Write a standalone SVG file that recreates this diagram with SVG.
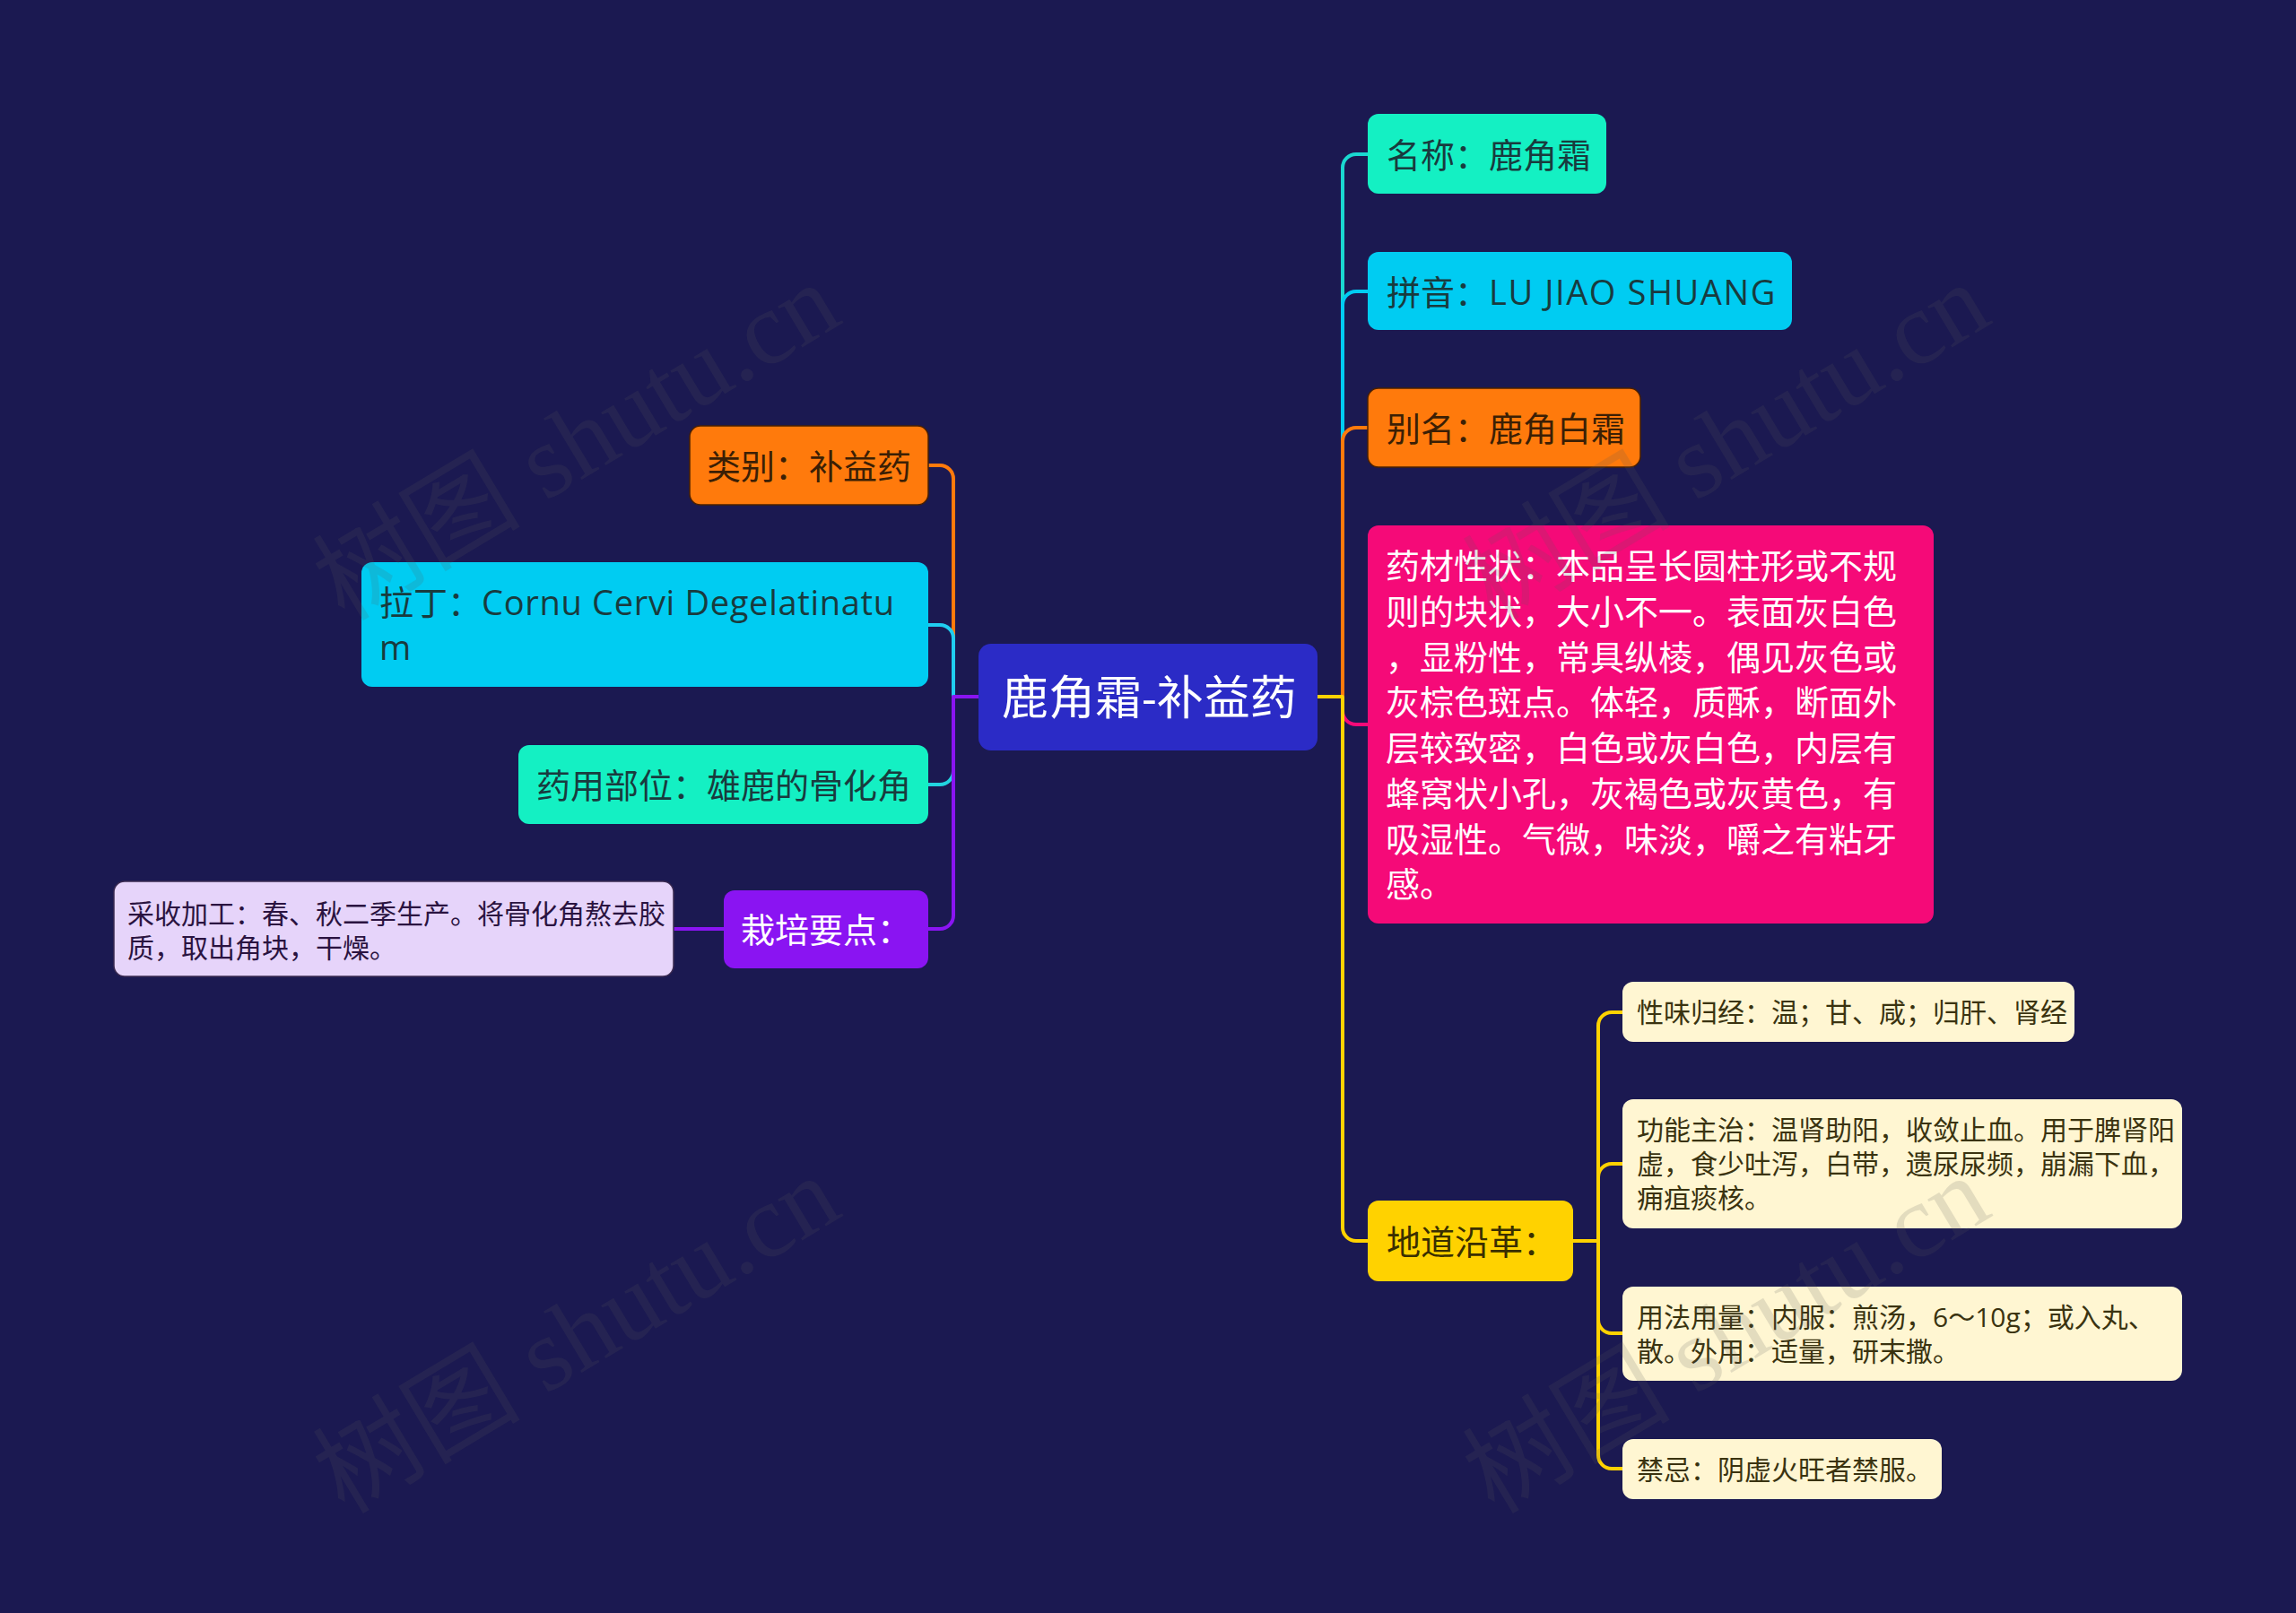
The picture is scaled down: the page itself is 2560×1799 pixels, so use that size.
<svg xmlns="http://www.w3.org/2000/svg" width="2560" height="1799" viewBox="0 0 2560 1799">
<style>
text{font-family:"Open Sans","Noto Sans CJK SC",sans-serif;}
.c{fill:none;stroke-width:4;stroke-linecap:round;stroke-linejoin:round}
.t38{font-size:38px}
.t30{font-size:30px}
.wm{font-family:"Liberation Serif","Noto Sans CJK SC",serif;font-size:116px;fill:#5a5a5a;opacity:0.16}
</style>
<rect x="0" y="0" width="2560" height="1799" fill="#1b1951"/>
<g id="connectors">
<path class="c" stroke="#1ad8d0" d="M1469,777 H1497 V187 A15,15 0 0 1 1512,172 H1525"/>
<path class="c" stroke="#00ccf2" d="M1469,777 H1497 V340 A15,15 0 0 1 1512,325 H1525"/>
<path class="c" stroke="#ff7a0c" d="M1469,777 H1497 V492 A15,15 0 0 1 1512,477 H1525"/>
<path class="c" stroke="#f50a78" d="M1469,777 H1497 V793 A15,15 0 0 0 1512,808 H1525"/>
<path class="c" stroke="#ffd200" d="M1469,777 H1497 V1369 A15,15 0 0 0 1512,1384 H1525"/>
<path class="c" stroke="#ffd200" d="M1754,1384 H1782 V1144 A15,15 0 0 1 1797,1129 H1809"/>
<path class="c" stroke="#ffd200" d="M1754,1384 H1782 V1313 A15,15 0 0 1 1797,1298 H1809"/>
<path class="c" stroke="#ffd200" d="M1754,1384 H1782 V1472 A15,15 0 0 0 1797,1487 H1809"/>
<path class="c" stroke="#ffd200" d="M1754,1384 H1782 V1623 A15,15 0 0 0 1797,1638 H1809"/>
<path class="c" stroke="#ff7a0c" d="M1091,777 H1063 V534 A15,15 0 0 0 1048,519 H1035"/>
<path class="c" stroke="#20cdf0" d="M1091,777 H1063 V712 A15,15 0 0 0 1048,697 H1035"/>
<path class="c" stroke="#22d4e0" d="M1091,777 H1063 V860 A15,15 0 0 1 1048,875 H1035"/>
<path class="c" stroke="#8a14f2" d="M1091,777 H1063 V1021 A15,15 0 0 1 1048,1036 H1035"/>
<path class="c" stroke="#8a14f2" d="M807,1036 H751"/>
</g>
<g id="center">
<rect x="1091" y="718" width="378" height="119" rx="14" fill="#2b2bc6"/>
<text x="1117" y="797" font-size="52" fill="#ffffff">鹿角霜-补益药</text>
</g>
<g id="n-name">
<rect x="1525" y="127" width="266" height="89" rx="12" fill="#14f0c3"/>
<text class="t38" x="1546" y="187" fill="#193b3e">名称：鹿角霜</text>
</g>
<g id="n-pinyin">
<rect x="1525" y="281" width="473" height="87" rx="12" fill="#00ccf2"/>
<text class="t38" x="1546" y="340" fill="#193b3e">拼音：<tspan letter-spacing="1.6">LU JIAO SHUANG</tspan></text>
</g>
<g id="n-alias">
<rect x="1525" y="433" width="304" height="88" rx="12" fill="#ff7a0c" stroke="#4a2000" stroke-width="1.5"/>
<text class="t38" x="1546" y="492" fill="#3b1f05">别名：鹿角白霜</text>
</g>
<g id="n-shape">
<rect x="1525" y="586" width="631" height="444" rx="12" fill="#f50a78"/>
<text class="t38" fill="#ffffff">
<tspan x="1545" y="645">药材性状：本品呈长圆柱形或不规</tspan>
<tspan x="1545" y="696">则的块状，大小不一。表面灰白色</tspan>
<tspan x="1545" y="747">，显粉性，常具纵棱，偶见灰色或</tspan>
<tspan x="1545" y="797">灰棕色斑点。体轻，质酥，断面外</tspan>
<tspan x="1545" y="848">层较致密，白色或灰白色，内层有</tspan>
<tspan x="1545" y="899">蜂窝状小孔，灰褐色或灰黄色，有</tspan>
<tspan x="1545" y="950">吸湿性。气微，味淡，嚼之有粘牙</tspan>
<tspan x="1545" y="1000">感。</tspan>
</text>
</g>
<g id="n-origin">
<rect x="1525" y="1339" width="229" height="90" rx="12" fill="#ffd200"/>
<text class="t38" x="1546" y="1399" fill="#3a2f00">地道沿革：</text>
</g>
<g id="n-taste">
<rect x="1809" y="1095" width="504" height="67" rx="12" fill="#fff6d2"/>
<text class="t30" x="1825" y="1140" fill="#3a3310">性味归经：温；甘、咸；归肝、肾经</text>
</g>
<g id="n-function">
<rect x="1809" y="1226" width="624" height="144" rx="12" fill="#fff6d2"/>
<text class="t30" fill="#3a3310">
<tspan x="1825" y="1271">功能主治：温肾助阳，收敛止血。用于脾肾阳</tspan>
<tspan x="1825" y="1309">虚，食少吐泻，白带，遗尿尿频，崩漏下血，</tspan>
<tspan x="1825" y="1347">痈疽痰核。</tspan>
</text>
</g>
<g id="n-usage">
<rect x="1809" y="1435" width="624" height="105" rx="12" fill="#fff6d2"/>
<text class="t30" fill="#3a3310">
<tspan x="1825" y="1480">用法用量：内服：煎汤，6～10g；或入丸、</tspan>
<tspan x="1825" y="1518">散。外用：适量，研末撒。</tspan>
</text>
</g>
<g id="n-taboo">
<rect x="1809" y="1605" width="356" height="67" rx="12" fill="#fff6d2"/>
<text class="t30" x="1825" y="1650" fill="#3a3310">禁忌：阴虚火旺者禁服。</text>
</g>
<g id="n-category">
<rect x="769" y="475" width="266" height="88" rx="12" fill="#ff7a0c" stroke="#4a2000" stroke-width="1.5"/>
<text class="t38" x="788" y="534" fill="#3b1f05">类别：补益药</text>
</g>
<g id="n-latin">
<rect x="403" y="627" width="632" height="139" rx="12" fill="#00ccf2"/>
<text class="t38" fill="#193b3e">
<tspan x="423" y="686">拉丁：<tspan letter-spacing="0.7">Cornu Cervi Degelatinatu</tspan></tspan>
<tspan x="423" y="736">m</tspan>
</text>
</g>
<g id="n-part">
<rect x="578" y="831" width="457" height="88" rx="12" fill="#14f0c3"/>
<text class="t38" x="598" y="890" fill="#193b3e">药用部位：雄鹿的骨化角</text>
</g>
<g id="n-cultivation">
<rect x="807" y="993" width="228" height="87" rx="12" fill="#8a14f2"/>
<text class="t38" x="826" y="1051" fill="#ffffff">栽培要点：</text>
</g>
<g id="n-harvest">
<rect x="127" y="983" width="624" height="106" rx="12" fill="#e6d4fa" stroke="#3a2a50" stroke-width="1.5"/>
<text class="t30" fill="#2a1340">
<tspan x="142" y="1030">采收加工：春、秋二季生产。将骨化角熬去胶</tspan>
<tspan x="142" y="1068">质，取出角块，干燥。</tspan>
</text>
</g>
<g id="watermarks">
<text class="wm" transform="translate(384,694) rotate(-31)">树图 shutu.cn</text>
<text class="wm" transform="translate(1666,694) rotate(-31)">树图 shutu.cn</text>
<text class="wm" transform="translate(384,1690) rotate(-31)">树图 shutu.cn</text>
<text class="wm" transform="translate(1666,1690) rotate(-31)">树图 shutu.cn</text>
</g>
</svg>
